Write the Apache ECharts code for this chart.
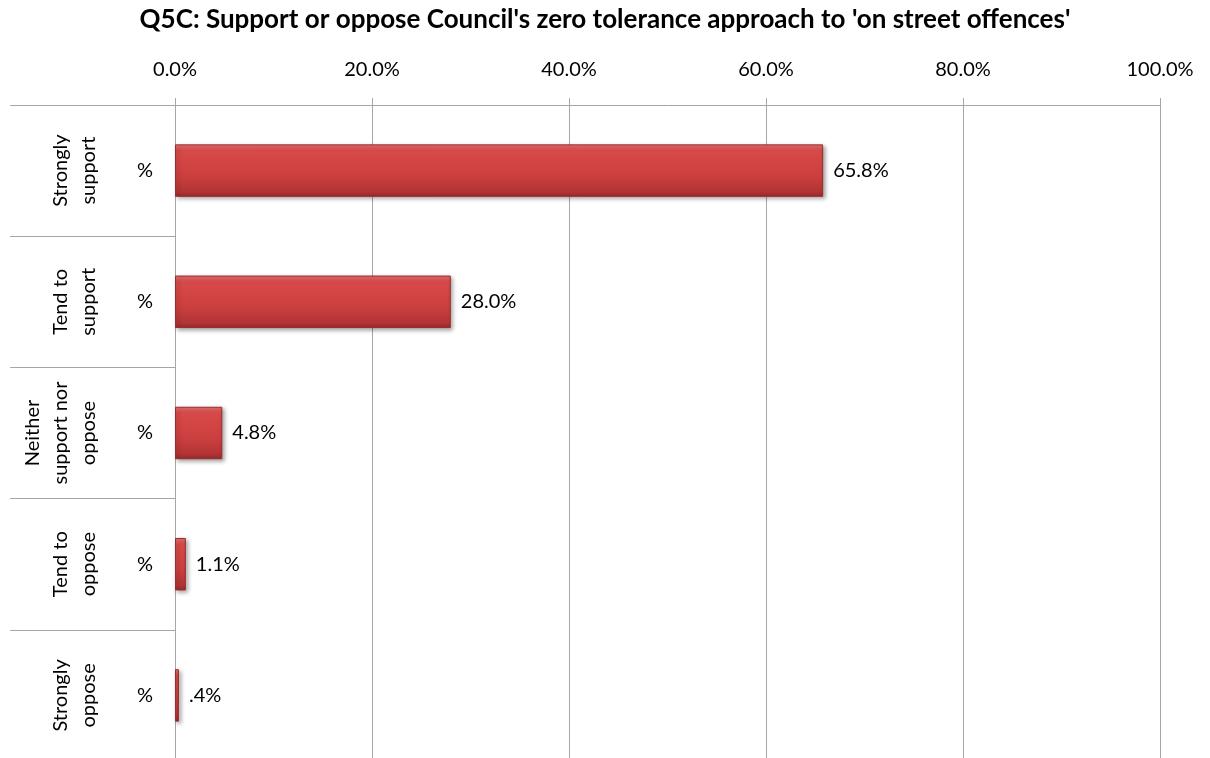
<!DOCTYPE html>
<html>
<head>
<meta charset="utf-8">
<script src="https://cdn.jsdelivr.net/npm/echarts@6/dist/echarts.min.js"></script>
<style>
  html, body { margin: 0; padding: 0; background: #ffffff; }
  #chart { width: 1210px; height: 758px; }
</style>
</head>
<body>
<div id="chart"></div>
<script>
// Survey responses, Q5C
const titleText = "Q5C: Support or oppose Council's zero tolerance approach to 'on street offences'";
const groups = ['Strongly\nsupport', 'Tend to\nsupport', 'Neither\nsupport nor\noppose', 'Tend to\noppose', 'Strongly\noppose'];
const unitLabels = ['%', '%', '%', '%', '%'];
const percentages = [65.8, 28.0, 4.8, 1.1, 0.4];
const axisTicks = [0, 20, 40, 60, 80, 100];

const FONT = 'Lato';
const GRID_GREY = '#a6a6a6';

function fmtPct(v) {
  let s = Number(v).toFixed(1);
  if (s.startsWith('0.') && v !== 0) s = s.slice(1);
  return s + '%';
}

const chart = echarts.init(document.getElementById('chart'), null, { renderer: 'canvas' });

chart.setOption({
  backgroundColor: '#ffffff',
  animation: false,
  title: {
    text: titleText,
    left: 'center',
    top: 2,
    textStyle: { fontFamily: FONT, fontSize: 26, fontWeight: 'bold', color: '#000' }
  },
  // plot area runs slightly past the bottom edge of the page
  grid: { left: 175, right: 50, top: 105, height: 656, containLabel: false, outerBoundsMode: 'none' },
  xAxis: {
    type: 'value',
    position: 'top',
    min: axisTicks[0],
    max: axisTicks[axisTicks.length - 1],
    interval: 20,
    axisLine: { show: true, lineStyle: { color: GRID_GREY, width: 1 } },
    axisTick: { show: true, length: 7, lineStyle: { color: GRID_GREY } },
    splitLine: { show: true, lineStyle: { color: GRID_GREY, width: 1 } },
    axisLabel: {
      margin: 25,
      fontFamily: FONT, fontSize: 20, color: '#000',
      formatter: v => Number(v).toFixed(1) + '%'
    }
  },
  yAxis: [
    {
      type: 'category',
      inverse: true,
      position: 'left',
      data: unitLabels,
      axisLine: { show: true, lineStyle: { color: GRID_GREY } },
      axisTick: { show: false },
      axisLabel: { margin: 22, fontFamily: FONT, fontSize: 20, color: '#000' }
    },
    {
      type: 'category',
      inverse: true,
      position: 'left',
      data: groups,
      axisLine: { show: false },
      axisTick: { show: true, length: 165, interval: 0, lineStyle: { color: GRID_GREY } },
      axisLabel: {
        margin: 72,
        rotate: 90,
        interval: 0,
        fontFamily: FONT, fontSize: 20, lineHeight: 28, color: '#000'
      }
    }
  ],
  series: [{
    type: 'bar',
    yAxisIndex: 0,
    data: percentages,
    barWidth: '40%',
    itemStyle: {
      color: new echarts.graphic.LinearGradient(0, 0, 0, 1, [
        { offset: 0, color: '#e97373' },
        { offset: 0.12, color: '#d84a4a' },
        { offset: 0.6, color: '#cc3f3f' },
        { offset: 0.9, color: '#b33434' },
        { offset: 1, color: '#962a2a' }
      ]),
      borderColor: '#9a2c2c',
      borderWidth: 1,
      shadowColor: 'rgba(0,0,0,0.35)',
      shadowBlur: 4,
      shadowOffsetX: 2,
      shadowOffsetY: 2
    },
    label: {
      show: true,
      position: 'right',
      distance: 10,
      fontFamily: FONT, fontSize: 20, color: '#000',
      formatter: p => fmtPct(p.value)
    }
  }]
});
</script>
</body>
</html>
